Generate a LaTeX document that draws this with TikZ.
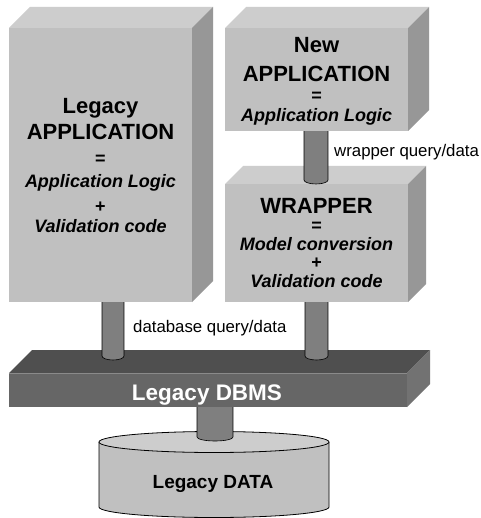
\documentclass[tikz,border=0pt]{standalone}
\usepackage{fontspec}
\setmainfont{Liberation Sans}
\definecolor{frontc}{HTML}{C0C0C0}
\definecolor{topc}{HTML}{CDCDCD}
\definecolor{sidec}{HTML}{979797}
\definecolor{dbfront}{HTML}{666666}
\definecolor{dbtop}{HTML}{4F4F4F}
\definecolor{dbside}{HTML}{727272}
\definecolor{dbedge}{HTML}{8A8A8A}
\definecolor{pipec}{HTML}{7F7F7F}
\definecolor{cyltop}{HTML}{CDCDCD}
\definecolor{cylside}{HTML}{C0C0C0}
\newcommand\mybox[6]{% x1,y1,x2,y2,depth,fill-scheme prefix
  \fill[#6front] (#1,#2) rectangle (#3,#4);
  \fill[#6top] (#1,#2) -- (#1+#5,#2-#5) -- (#3+#5,#2-#5) -- (#3,#2) -- cycle;
  \fill[#6side] (#3,#2) -- (#3+#5,#2-#5) -- (#3+#5,#4-#5) -- (#3,#4) -- cycle;
}
\colorlet{bxfront}{frontc}\colorlet{bxtop}{topc}\colorlet{bxside}{sidec}
\newcommand\pipev[4]{% cx, half width, ytop, ybottom
  \fill[pipec] (#1-#2,#3) rectangle (#1+#2,#4);
  \fill[pipec] (#1,#4) ellipse [x radius=#2pt, y radius=4pt];
  \draw[line width=0.6pt] (#1-#2,#3) -- (#1-#2,#4)
     arc[start angle=180, end angle=360, x radius=#2pt, y radius=4pt] -- (#1+#2,#3);
}
\tikzset{
  big/.style={font=\fontsize{22}{26}\selectfont\bfseries, inner sep=0pt, anchor=base},
  ital/.style={font=\fontsize{18}{21}\selectfont\bfseries\itshape, inner sep=0pt, anchor=base},
  sym/.style={font=\fontsize{18}{21}\selectfont\bfseries, inner sep=0pt},
  lbl/.style={font=\fontsize{16.8}{19}\selectfont, inner sep=0pt, anchor=base west},
}
\begin{document}
\begin{tikzpicture}[x=1pt,y=-1pt]
\useasboundingbox[fill=white] (0,0) rectangle (480,518);
% DBMS slab
\mybox{9}{373}{407}{407}{23}{db}
\draw[dbedge, line width=0.8pt] (9,373) -- (407,373);
% lower pipes
\pipev{113}{11}{302}{356}
\pipev{316.5}{11.5}{302}{356}
% legacy box
\mybox{9}{28}{192}{302}{21}{bx}
% wrapper box
\mybox{225}{184}{408}{302}{18}{bx}
% wrapper pipe
\pipev{316}{12}{131}{180}
% new app box
\mybox{225}{28}{408}{131}{21}{bx}
% cylinder
\fill[cylside] (99,442) -- (99,507) arc[start angle=180,end angle=360,x radius=115pt,y radius=10.5pt] -- (329,442) -- cycle;
\draw[line width=0.8pt] (99,442) -- (99,507) arc[start angle=180,end angle=360,x radius=115pt,y radius=10.5pt] -- (329,442);
\draw[line width=0.8pt, fill=cyltop] (214,442) ellipse [x radius=115pt, y radius=10.5pt];
% central pipe
\pipev{215}{18}{407}{437}
% legacy texts
\node[big] (la1) at (100.5,114) {Legacy};
\node[big] (la2) at (100.5,140) {APPLICATION};
\node[sym] (la3) at (100.5,160) {=};
\node[ital] (la4) at (100.5,188) {Application Logic};
\node[sym] (la5) at (100.5,207) {+};
\node[ital] (la6) at (100.5,233) {Validation code};
% new app texts
\node[big] (na1) at (316.5,53) {New};
\node[big] (na2) at (316.5,82) {APPLICATION};
\node[sym] (na3) at (316.5,97) {=};
\node[ital] (na4) at (316.5,122) {Application Logic};
% wrapper texts
\node[big] (wr1) at (316.5,214) {WRAPPER};
\node[sym] (wr2) at (316.5,227) {=};
\node[ital] (wr3) at (316.5,250) {Model conversion};
\node[sym] (wr4) at (316.5,263) {+};
\node[ital] (wr5) at (316.5,287) {Validation code};
% labels
\node[lbl] (wq) at (334,157) {wrapper query/data};
\node[lbl] (dq) at (133,332) {database query/data};
\node[big, text=white, font=\fontsize{22.5}{26}\selectfont\bfseries] (dbms) at (207,400) {Legacy DBMS};
\node[big, font=\fontsize{19}{22}\selectfont\bfseries] (data) at (213,488) {Legacy DATA};
\end{tikzpicture}
\end{document}
